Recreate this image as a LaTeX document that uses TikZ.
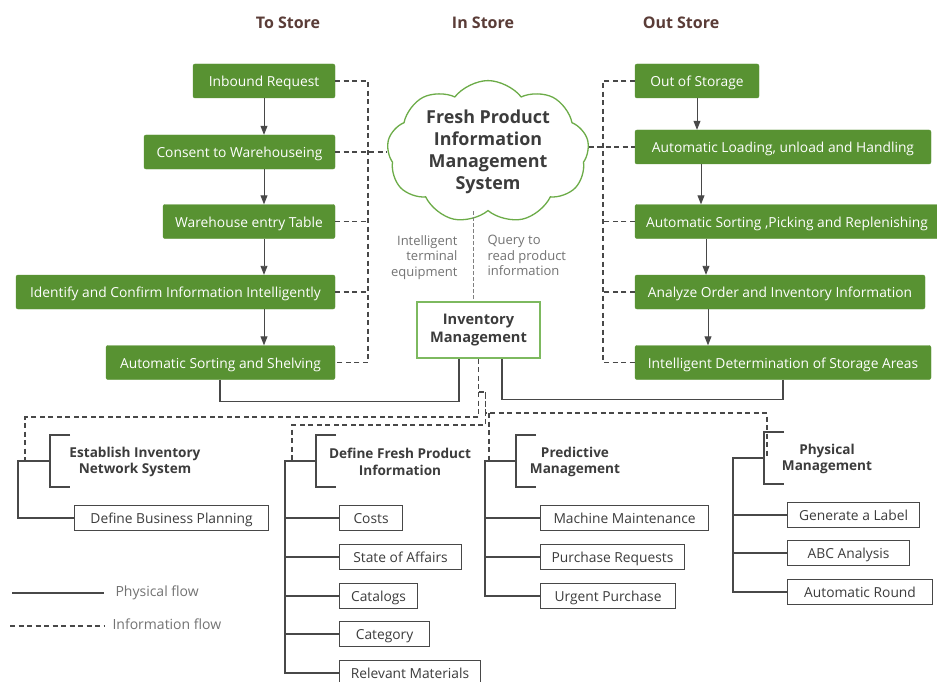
\documentclass[tikz,border=0pt]{standalone}
\usepackage{fontspec}
\setmainfont{Open Sans}
\usetikzlibrary{arrows.meta,shapes.symbols}

\definecolor{boxgreen}{RGB}{88,146,50}
\definecolor{cloudgreen}{RGB}{108,172,72}
\definecolor{imgreen}{RGB}{125,185,95}
\definecolor{headbrown}{RGB}{90,60,55}
\definecolor{linegray}{RGB}{72,72,72}
\definecolor{textgray}{RGB}{60,60,60}

\tikzset{
  gbox/.style={fill=boxgreen, draw=boxgreen, rounded corners=2pt, text=white,
    font=\fontsize{13.8}{16}\selectfont, minimum height=34pt, inner sep=0pt,
    text height=11.5pt, text depth=0pt},
  leaf/.style={draw=linegray, line width=1.1pt, fill=white, text=textgray, anchor=west,
    font=\fontsize{13.8}{16}\selectfont, minimum height=25pt, inner sep=0pt,
    text height=11.5pt, text depth=0pt},
  head/.style={text=textgray, font=\bfseries\fontsize{13.6}{16.5}\selectfont, align=center},
  title/.style={text=headbrown, font=\bfseries\fontsize{16}{18}\selectfont},
  note/.style={text=gray!90!black, font=\fontsize{13}{15.5}\selectfont},
  flow/.style={linegray, line width=0.9pt, -{Triangle[width=7pt,length=9pt]}},
  phys/.style={linegray, line width=1.1pt},
  info/.style={linegray, line width=1.1pt, dash pattern=on 5pt off 3.5pt},
  infolight/.style={gray, line width=1pt, dash pattern=on 3.5pt off 2.5pt},
}

\begin{document}
\begin{tikzpicture}[x=1pt,y=-1pt]
  \useasboundingbox[fill=white] (0,0) rectangle (937,682);

  % column titles
  \node[title] (tto) at (288,23) {To Store};
  \node[title] (tin) at (483,23) {In Store};
  \node[title] (tout) at (681,23) {Out Store};

  % to store
  \node[gbox, minimum width=142pt] (i1) at (264,81) {Inbound Request};
  \node[gbox, minimum width=191pt] (i2) at (239.5,152) {Consent to Warehouseing};
  \node[gbox, minimum width=172pt] (i3) at (249,221.5) {Warehouse entry Table};
  \node[gbox, minimum width=319pt] (i4) at (175.5,292) {Identify and Confirm Information Intelligently};
  \node[gbox, minimum width=229pt] (i5) at (220.5,362.5) {Automatic Sorting and Shelving};
  \foreach \a/\b in {i1/i2,i2/i3,i3/i4,i4/i5}
    \draw[flow] (\a.south -| i1.south) -- (\b.north -| i1.south);

  % out store
  \node[gbox, minimum width=124pt] (o1) at (697,81) {Out of Storage};
  \node[gbox, minimum width=296pt] (o2) at (783,147) {Automatic Loading, unload and Handling};
  \node[gbox, minimum width=304pt] (o3) at (787,221.5) {Automatic Sorting ,Picking and Replenishing};
  \node[gbox, minimum width=290pt] (o4) at (780,292) {Analyze Order and Inventory Information};
  \node[gbox, minimum width=296pt] (o5) at (783,362.5) {Intelligent Determination of Storage Areas};
  \foreach \a/\b/\x in {o1/o2/697,o2/o3/701,o3/o4/706,o4/o5/708}
    \draw[flow] (\a.south -| \x,0) -- (\b.north -| \x,0);

  % in store
  \node[cloud, cloud puffs=9, cloud puff arc=105, aspect=1.45, draw=cloudgreen, line width=1.3pt,
    fill=white, minimum width=202pt, minimum height=141pt, inner sep=0pt, text=textgray,
    font=\bfseries\fontsize{17.9}{22}\selectfont, align=center] (cloud) at (488,152)
    {Fresh Product\\Information\\Management\\System};
  \node[draw=imgreen, line width=1.5pt, minimum width=123pt, minimum height=56pt, text=textgray,
    font=\bfseries\fontsize{14.6}{18}\selectfont, align=center] (im) at (478.5,330)
    {Inventory\\Management};
  \node[note, align=right, anchor=north east] (n1) at (461,232) {Intelligent\\terminal\\equipment};
  \node[note, align=left, anchor=north west] (n2) at (484,232) {Query to\\read product\\information};
  \draw[infolight] (cloud.south -| 473,0) -- (im.north -| 473,0);

  % information buses
  \coordinate (lbus) at (368,0);
  \coordinate (rbus) at (603,0);
  \draw[info] (i1.east) -- (i1.east -| lbus) |- (i5.east);
  \foreach \n in {i3,i4}
    \draw[info] (\n.east) -- (\n.east -| lbus);
  \draw[info] (i2.east) -- (cloud.west |- i2.east);
  \draw[info] (o1.west) -- (o1.west -| rbus) |- (o5.west);
  \foreach \n in {o3,o4}
    \draw[info] (\n.west) -- (\n.west -| rbus);
  \draw[info] (cloud.east |- o2.west) -- (o2.west);

  % physical flow into inventory
  \draw[phys] (i5.south -| 220,0) -- ++(0,22) -| (im.south -| 459,0);
  \draw[phys] (o5.south -| 783,0) -- ++(0,20) -| (im.south -| 502,0);

  % management groups
  \node[head] (h1) at (135,462) {Establish Inventory\\Network System};
  \node[head] (h2) at (400,462) {Define Fresh Product\\Information};
  \node[head] (h3) at (575,462) {Predictive\\Management};
  \node[head] (h4) at (827,459) {Physical\\Management};
  \coordinate (b1) at (50,461);  \coordinate (t1) at (18,461);
  \coordinate (b2) at (316,461); \coordinate (t2) at (285,461);
  \coordinate (b3) at (516,461); \coordinate (t3) at (485,461);
  \coordinate (b4) at (764,458); \coordinate (t4) at (733,458);
  \foreach \b in {b1,b2,b3,b4}
    \draw[phys] (\b) ++(20,-26) -| ++(-20,52) -- ++(20,0);

  \node[leaf, minimum width=194pt] (l11) at (74,518) {Define Business Planning};
  \foreach \n/\y/\w/\t in {l21/518/63/Costs, l22/557/122/State of Affairs, l23/596/78/Catalogs,
      l24/634/90/Category, l25/673/141/Relevant Materials}
    \node[leaf, minimum width=\w pt] (\n) at (339,\y) {\t};
  \foreach \n/\y/\w/\t in {l31/518/168/Machine Maintenance, l32/557/144/Purchase Requests,
      l33/596/135/Urgent Purchase}
    \node[leaf, minimum width=\w pt] (\n) at (540,\y) {\t};
  \foreach \n/\y/\w/\t in {l41/515/132/Generate a Label, l42/553/122/ABC Analysis,
      l43/592/145/Automatic Round}
    \node[leaf, minimum width=\w pt] (\n) at (787,\y) {\t};

  \draw[phys] (b1) -- (t1) |- (l11.west);
  \draw[phys] (b2) -- (t2) |- (l25.west);
  \foreach \n in {l21,l22,l23,l24}
    \draw[phys] (\n.west -| t2) -- (\n.west);
  \draw[phys] (b3) -- (t3) |- (l33.west);
  \foreach \n in {l31,l32}
    \draw[phys] (\n.west -| t3) -- (\n.west);
  \draw[phys] (b4) -- (t4) |- (l43.west);
  \foreach \n in {l41,l42}
    \draw[phys] (\n.west -| t4) -- (\n.west);

  % information to groups
  \coordinate (hub) at (478.5,392);
  \draw[info] (im.south) -- (hub);
  \draw[info] (hub) |- (25,417) -- (t1 -| 25,0);
  \draw[info] (hub) -- ++(7,0) |- (292,425) -- (t2 -| 292,0);
  \draw[info] (hub) ++(7,0) |- (767,413) -- (b4 -| 767,0) ++(0,-26);
  \draw[info] (489,413) -- (t3 -| 489,0);

  % legend
  \node[note, font=\fontsize{14}{16}\selectfont, anchor=west] (lg1) at (112,593) {Physical flow};
  \node[note, font=\fontsize{14}{16}\selectfont, anchor=west] (lg2) at (109,624) {Information flow};
  \coordinate (lp) at (12,593);
  \coordinate (lq) at (10,626);
  \draw[phys] (lp) -- (lp -| 104,0);
  \draw[info] (lq) -- (lq -| 104,0);
\end{tikzpicture}
\end{document}
